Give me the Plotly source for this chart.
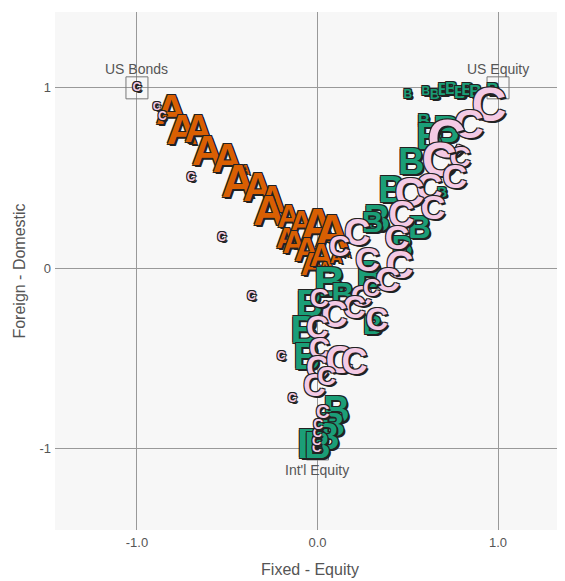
import plotly.graph_objects as go

# Asset-mix scatter: x = Fixed - Equity, y = Foreign - Domestic
a_x = [-0.81, -0.75, -0.66, -0.61, -0.50, -0.40, -0.44, -0.33, -0.25, -0.27, -0.16, -0.09,
       0.00, 0.08, -0.17, -0.13, -0.06, -0.03, 0.02, 0.105, 0.16, 0.04]
a_y = [0.86, 0.75, 0.75, 0.63, 0.59, 0.54, 0.46, 0.43, 0.36, 0.30, 0.27, 0.24,
       0.21, 0.18, 0.155, 0.13, 0.09, 0.005, 0.055, 0.055, 0.08, 0.0]
a_size = [43, 43, 38, 43, 41, 12, 46, 41, 36, 43, 31, 31,
          48, 48, 29, 31, 34, 31, 31, 17, 12, 14]

b_x = [0.50, 0.60, 0.65, 0.70, 0.74, 0.79, 0.83, 0.875, 0.97, 0.59, 0.715, 0.62,
       0.52, 0.69, 0.41, 0.33, 0.565, 0.47, 0.305, 0.29, 0.066, 0.14, -0.044, 0.305,
       -0.072, -0.06, 0.105, 0.083, 0.05, -0.028, 0.0]
b_y = [0.96, 0.975, 0.96, 0.985, 0.99, 0.97, 0.985, 0.975, 0.985, 0.81, 0.75, 0.71,
       0.57, 0.415, 0.42, 0.255, 0.21, 0.11, 0.24, -0.055, -0.094, -0.16, -0.216, -0.327,
       -0.36, -0.51, -0.80, -0.88, -0.95, -0.99, -1.0]
b_size = [12, 12, 14, 17, 17, 17, 17, 17, 17, 17, 36, 36,
          36, 14, 36, 36, 31, 29, 29, 36, 43, 31, 36, 26,
          38, 36, 36, 34, 36, 43, 36]

c_x = [-1.0, -0.89, -0.86, -0.70, -0.53, -0.365, -0.2, -0.14, -0.005, -0.005, 0.0, 0.005, 0.03,
       0.95, 0.84, 0.715, 0.79, 0.675, 0.76, 0.62, 0.64, 0.51, 0.465, 0.44, 0.455, 0.39,
       0.277, 0.22, 0.122, 0.244, 0.33, 0.205, 0.30, 0.094, 0.011, 0.0, 0.011, 0.0, 0.122,
       0.205, -0.017, 0.05]
c_y = [1.0, 0.89, 0.84, 0.50, 0.17, -0.16, -0.49, -0.725, -1.0, -0.96, -0.915, -0.87, -0.80,
       0.885, 0.78, 0.69, 0.60, 0.58, 0.49, 0.43, 0.32, 0.40, 0.277, 0.155, 0.0, -0.078,
       0.033, 0.177, 0.11, -0.166, -0.30, -0.233, -0.122, -0.277, -0.177, -0.343, -0.454, -0.565, -0.526,
       -0.537, -0.665, -0.61]
c_size = [12, 11, 12, 12, 12, 12, 12, 12, 13, 13, 13, 14, 19,
          48, 41, 53, 29, 48, 34, 36, 34, 41, 36, 34, 38, 34,
          34, 36, 29, 29, 31, 31, 24, 36, 26, 31, 29, 31, 38,
          36, 31, 26]

anchor_x = [-1, 1, 0]
anchor_y = [1, 1, -1]
anchor_names = ["US Bonds", "US Equity", "Int'l Equity"]

outline = ("-1px -1px 0 #222, 1px -1px 0 #222, -1px 1px 0 #222, 1px 1px 0 #222, "
           "2px 2px 0 #222")

fig = go.Figure()
fig.add_trace(go.Scatter(x=anchor_x, y=anchor_y, mode="markers",
                         marker=dict(symbol="square-open", size=22, color="#777",
                                     line=dict(width=1)),
                         hoverinfo="skip"))

for letter, xs, ys, ss, col in [("A", a_x, a_y, a_size, "#D95F02"),
                                ("B", b_x, b_y, b_size, "#1B9E77"),
                                ("C", c_x, c_y, c_size, "#F4CAE4")]:
    fig.add_trace(go.Scatter(x=xs, y=ys, mode="text", text=[letter] * len(xs),
                             textposition="middle center",
                             textfont=dict(family="Liberation Sans, Arial", size=ss,
                                           color=col, weight="bold", shadow=outline),
                             name=letter))

for nx, ny, nm in zip(anchor_x, anchor_y, anchor_names):
    fig.add_annotation(x=nx, y=ny, text=nm, showarrow=False,
                       yshift=19 if ny > 0 else -21,
                       font=dict(family="Liberation Sans, Arial", size=14, color="#555"))

axis_common = dict(showgrid=True, gridcolor="#999", gridwidth=1, zeroline=False,
                   showline=False, ticks="",
                   tickfont=dict(family="Liberation Sans, Arial", size=13, color="#555"))

fig.update_xaxes(range=[-1.454, 1.371], tickvals=[-1, 0, 1], ticktext=["-1.0", "0.0", "1.0"],
                 ticklabelstandoff=3,
                 title=dict(text="Fixed - Equity", font=dict(size=16, color="#555"), standoff=14),
                 **axis_common)
fig.update_yaxes(range=[-1.449, 1.42], tickvals=[-1, 0, 1], ticktext=["-1", "0", "1"],
                 ticklabelstandoff=3,
                 title=dict(text="Foreign - Domestic", font=dict(size=16, color="#555"), standoff=9),
                 **axis_common)

fig.update_layout(width=565, height=581, showlegend=False,
                  margin=dict(l=47, r=8, t=4, b=59),
                  plot_bgcolor="#f7f7f7", paper_bgcolor="white",
                  font=dict(family="Liberation Sans, Arial"))

fig.write_html("out.html")
